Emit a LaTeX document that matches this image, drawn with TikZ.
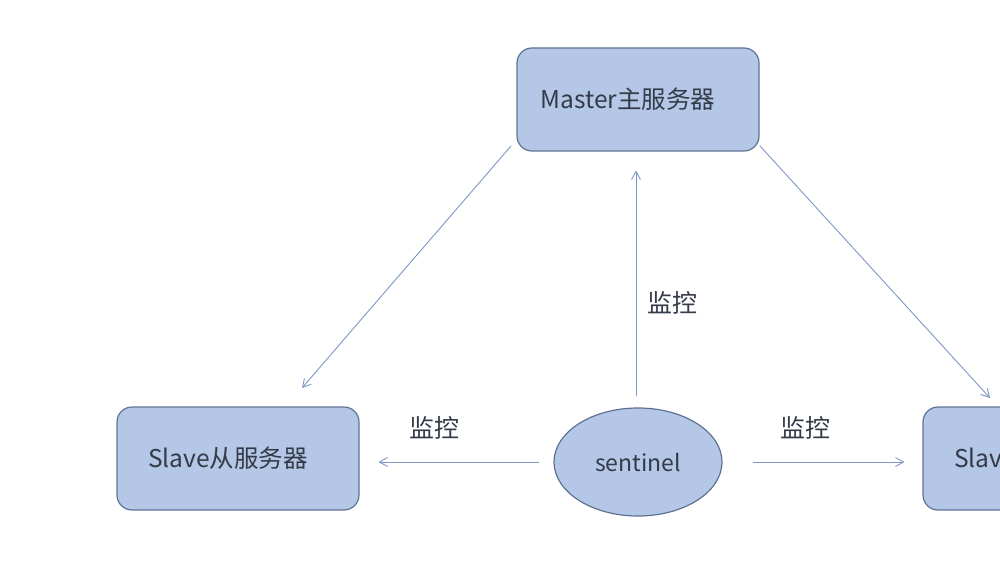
\documentclass[tikz,border=0pt]{standalone}
\usepackage{fontspec}
\setmainfont{Noto Sans CJK SC}
\usetikzlibrary{arrows.meta,shapes.geometric}
\definecolor{boxfill}{HTML}{B4C7E7}
\definecolor{boxline}{HTML}{5E7393}
\definecolor{arrowc}{HTML}{7F97C6}
\definecolor{txt}{HTML}{333B48}
\tikzset{
  server/.style={draw=boxline, line width=1.2pt, fill=boxfill, rounded corners=15pt,
    minimum width=242pt, minimum height=103pt, inner sep=0pt, text=txt,
    font=\fontsize{24.5}{28}\selectfont},
  sent/.style={draw=boxline, line width=1.2pt, fill=boxfill, ellipse,
    minimum width=168pt, minimum height=108pt, inner sep=0pt, text=txt,
    font=\fontsize{23}{26}\selectfont},
  link/.style={draw=arrowc, line width=0.9pt, -{Straight Barb[length=8pt,width=9pt]}},
  lbl/.style={text=txt, font=\fontsize{25}{28}\selectfont, inner sep=0pt}
}
\begin{document}
\begin{tikzpicture}[x=1pt,y=-1pt]
\useasboundingbox (0,0) rectangle (1000,580);
\clip (0,0) rectangle (1000,580);
\fill[white] (0,0) rectangle (1000,580);
\node[server] (master) at (638,99.5) {Master主服务器\hspace*{20pt}};
\node[server] (slaveL) at (238,458.5) {Slave从服务器\hspace*{20pt}};
\node[server] (slaveR) at (1044,458.5) {Slave从服务器\hspace*{20pt}};
\node[sent] (sentinel) at (638,462) {sentinel};
\coordinate (mL) at (511,146);
\coordinate (sLt) at (302,388);
\coordinate (mR) at (760,146);
\coordinate (sRt) at (990,398);
\draw[link] (mL) -- (sLt);
\draw[link] (mR) -- (sRt);
\draw[link, shorten <=11pt, shorten >=19pt] ([xshift=-2pt]sentinel.north) -- ([xshift=-2pt]master.south);
\draw[link, shorten <=14pt, shorten >=19pt] (sentinel.west) -- (slaveL.east |- sentinel.west);
\draw[link, shorten <=30pt, shorten >=18pt] (sentinel.east) -- (slaveR.west |- sentinel.east);
\node[lbl] (l1) at (672,303) {监控};
\node[lbl] (l2) at (434,428) {监控};
\node[lbl] (l3) at (805,428) {监控};
\end{tikzpicture}
\end{document}
